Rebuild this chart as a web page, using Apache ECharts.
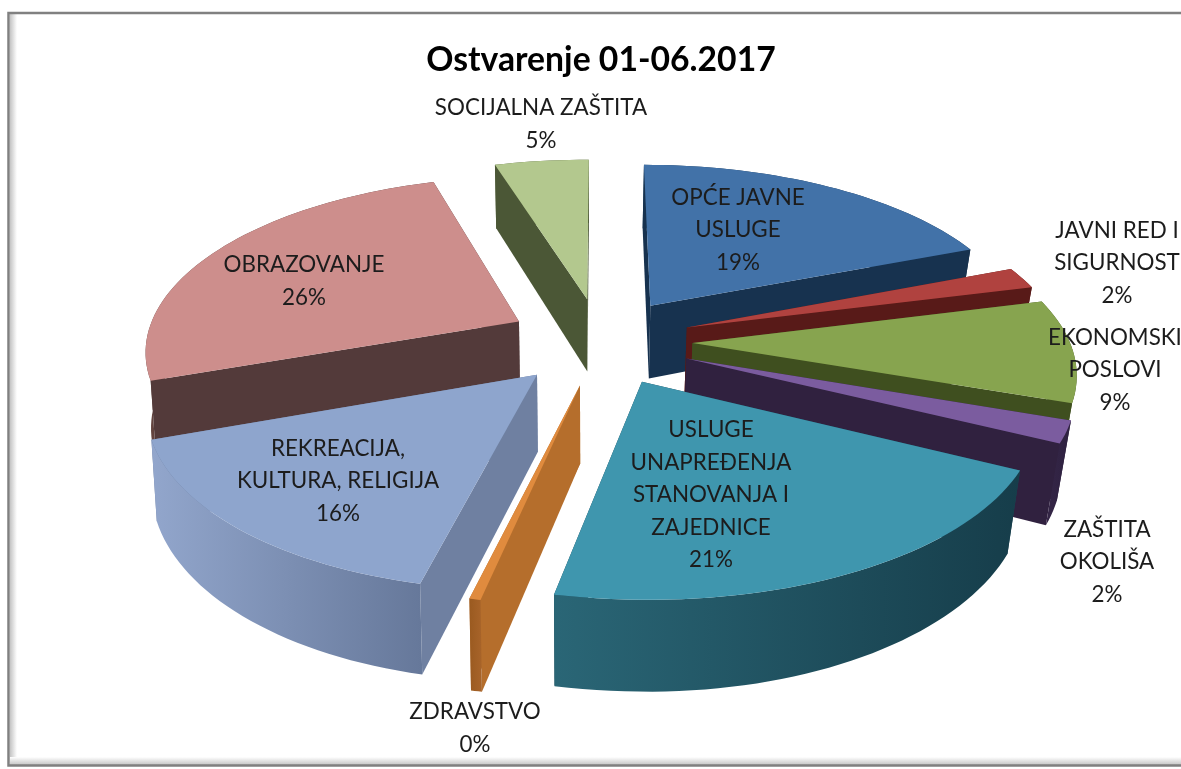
<!DOCTYPE html>
<html><head><meta charset="utf-8">
<style>html,body{margin:0;padding:0;background:#fff}#c{width:1181px;height:769px}</style>
<script src="https://cdn.jsdelivr.net/npm/echarts@6/dist/echarts.min.js"></script>
</head><body><div id="c"></div>
<script>
// ---- data ----
const titleText = 'Ostvarenje 01-06.2017';
const categories = ['OPĆE JAVNE\nUSLUGE','JAVNI RED I\nSIGURNOST','EKONOMSKI\nPOSLOVI','ZAŠTITA\nOKOLIŠA','USLUGE\nUNAPREĐENJA\nSTANOVANJA I\nZAJEDNICE','ZDRAVSTVO','REKREACIJA,\nKULTURA, RELIGIJA','OBRAZOVANJE','SOCIJALNA ZAŠTITA'];
const values = [19, 2, 9.4, 2, 20.75, 0.4, 15.95, 25.9, 4.6];

// ---- styles (top, radial wall, outer wall left, outer wall right) ----
const topColors  = ['#4272a8','#b0423f','#87a44f','#7b5c9f','#3f96ae','#e08b3e','#8ea5cd','#cd8e8c','#b3c88e'];
const wallColors = ['#17324f','#581a18','#3f4f1f','#30213f','#1b4452','#b56e2c','#6f80a1','#533a3a','#4b5736'];
const arcLeft    = ['#1f4060','#6a2220','#4d5f28','#352647','#2a6676','#9a5a20','#92a6cc','#63443f','#5a6842'];
const arcRight   = ['#17324f','#581a18','#3f4f1f','#2e2140','#163d4a','#a8642a','#66789a','#533a3a','#4b5736'];
// label centres, separate from data
const labelCenter = [[738,230],[1117,263],[1115,370],[1107,562],[711,495],[475,728],[338,481],[304,281],[541,124]];

// ---- projection: a tilted, perspective pie ----
const cam = {cx:600, cy:341, R:377, Rq:175.3, k:0.1526, depth:75,
  explodeX:0.245, explodeY:0.25, rimXR:1.0, rimXL:0.975, rimY:0.98, rimShift:-0.016, shrinkL:0.012, shrinkR:0.03};
const total = values.reduce((a,b)=>a+b,0);
function project(X,Y,down){
  const s = 1/(1+cam.k*Y);
  let x = cam.cx + cam.R*X*s;
  if(down){ x = cam.cx + (x-cam.cx)*(1-(x>cam.cx?cam.shrinkR:cam.shrinkL)); }
  return [x, cam.cy - cam.Rq*Y*s + (down?cam.depth*s:0)];
}
function rimOffset(a){
  const sn = Math.sin(a);
  if(sn>=0) return cam.rimXR*sn;
  return cam.rimXL*sn + cam.rimShift*Math.min(1,-sn/0.2);
}
let acc = 0;
const slices = values.map((v,i)=>{
  const a0 = acc/total*2*Math.PI; acc += v; const a1 = acc/total*2*Math.PI;
  const mid = (a0+a1)/2;
  return {i,a0,a1,mid,ox:cam.explodeX*Math.sin(mid),oy:cam.explodeY*Math.cos(mid)};
});
const paintOrder = slices.slice().sort((a,b)=>Math.cos(b.mid)-Math.cos(a.mid)).map(s=>s.i);

function renderSlice(params){
  const i = paintOrder[params.dataIndex], sl = slices[i];
  const n = Math.max(3, Math.ceil((sl.a1-sl.a0)/0.03));
  const rim = [];
  for(let t=0;t<=n;t++){
    const a = sl.a0+(sl.a1-sl.a0)*t/n;
    rim.push([sl.ox+rimOffset(a), sl.oy+cam.rimY*Math.cos(a)]);
  }
  const apex = [sl.ox, sl.oy];
  const up = p=>project(p[0],p[1],false), dn = p=>project(p[0],p[1],true);
  const first = rim[0], last = rim[rim.length-1];
  const walls = [
    {pts:[up(apex),up(first),dn(first),dn(apex)], fill:wallColors[i]},
    {pts:[up(apex),up(last),dn(last),dn(apex)], fill:wallColors[i]},
    {pts:rim.map(up).concat(rim.map(dn).reverse()),
     fill:new echarts.graphic.LinearGradient(0,0,1,0,[{offset:0,color:arcLeft[i]},{offset:1,color:arcRight[i]}])}
  ];
  walls.forEach(w=>{w.my=w.pts.reduce((a,p)=>a+p[1],0)/w.pts.length;});
  walls.sort((a,b)=>a.my-b.my);
  const children = walls.map(w=>({type:'polygon',shape:{points:w.pts},style:{fill:w.fill}}));
  children.push({type:'polygon',shape:{points:[up(apex)].concat(rim.map(up))},style:{fill:topColors[i]}});
  return {type:'group',children};
}
function renderLabel(params){
  const i = params.dataIndex, c = labelCenter[i];
  return {type:'text',style:{
    x:c[0],y:c[1],text:categories[i]+'\n'+Math.round(values[i]/total*100)+'%',
    textAlign:'center',textVerticalAlign:'middle',
    font:'22.4px Lato',lineHeight:32.6,fill:'#1c1c1c'}};
}
const frameGrey = '#808080';
const chart = echarts.init(document.getElementById('c'),null,{renderer:'canvas'});
chart.setOption({
  animation:false,
  backgroundColor:'#ffffff',
  title:{text:titleText,left:596,top:38,textAlign:'center',
    textStyle:{fontFamily:'Lato',fontWeight:'bold',fontSize:33.7,color:'#000'}},
  graphic:[
    {type:'rect',z:0,shape:{x:10,y:14,width:7,height:746},style:{fill:new echarts.graphic.LinearGradient(0,0,1,0,[{offset:0,color:'#c4c4c4'},{offset:1,color:'#ffffff'}])}},
    {type:'rect',z:0,shape:{x:10,y:757,width:1171,height:8},style:{fill:new echarts.graphic.LinearGradient(0,0,0,1,[{offset:0,color:'#ffffff'},{offset:1,color:'#c4c4c4'}])}},
    {type:'rect',z:1,shape:{x:8.5,y:13,width:1180,height:752.5},style:{fill:'none',stroke:frameGrey,lineWidth:2.5}}
  ],
  series:[
    {type:'custom',coordinateSystem:'none',z:2,silent:true,clip:false,
     data:paintOrder.map(i=>({name:categories[i],value:[values[i]]})),renderItem:renderSlice},
    {type:'custom',coordinateSystem:'none',z:3,silent:true,clip:false,
     data:categories.map((n,i)=>({name:n,value:[values[i]]})),renderItem:renderLabel}
  ]
});
</script></body></html>
